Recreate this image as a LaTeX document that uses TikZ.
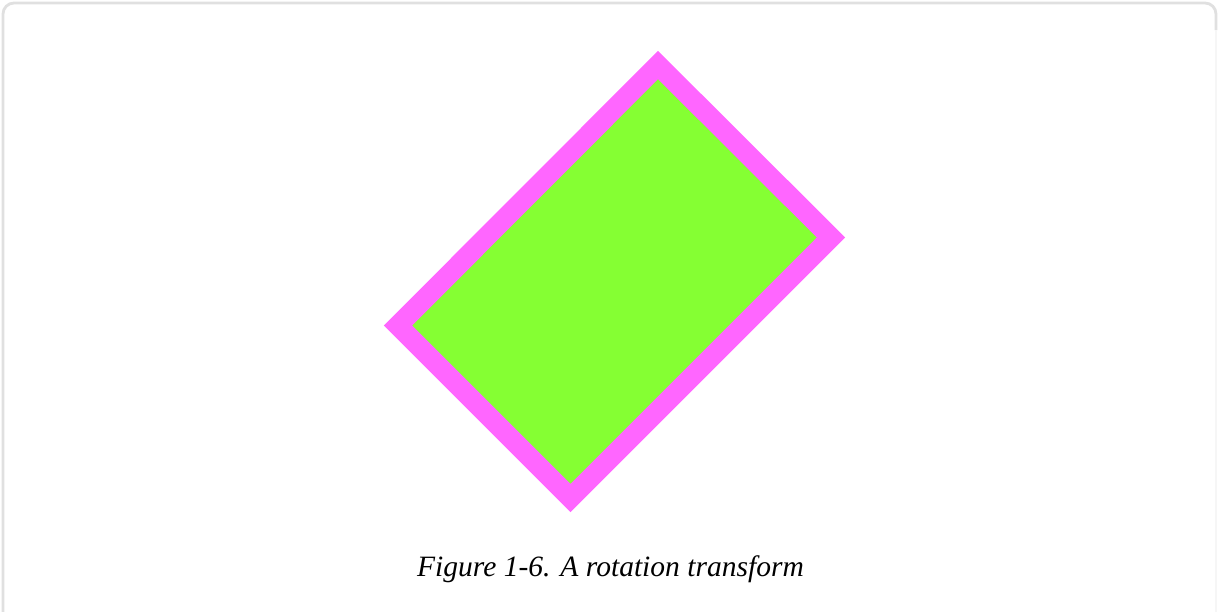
\documentclass[tikz,border=0pt]{standalone}
\usepackage{fontspec}
\setmainfont{Liberation Serif}
\usepackage{tikz}

\definecolor{framegray}{HTML}{E0E0E0}
\definecolor{rotgreen}{HTML}{85FF33}
\definecolor{rotpink}{HTML}{FF66FF}

\begin{document}
\begin{tikzpicture}[x=0.025cm, y=-0.025cm]
        \useasboundingbox (0,0) rectangle (1219,612);
        \fill[white] (0,0) rectangle (1219,612);
        \draw[framegray, line width=2] (3,612) -- (3,14) arc[start angle = 180, end angle = 270, radius = 11] -- (1205,3) arc[start angle = 270, end angle = 360, radius = 11] -- (1216,30);
        \draw[framegray!30, line width=2] (1216,30) -- (1216,612);
        \draw[rotpink, fill=rotgreen, line width=20*0.025cm] (658,65) -- (831,237.5) -- (570.5,498) -- (398,325.5) -- cycle;
        \node[font=\itshape\fontsize{21}{25}\selectfont, anchor=base] (caption) at (610.5,576) {Figure 1-6. A rotation transform};
    \end{tikzpicture}
\end{document}
